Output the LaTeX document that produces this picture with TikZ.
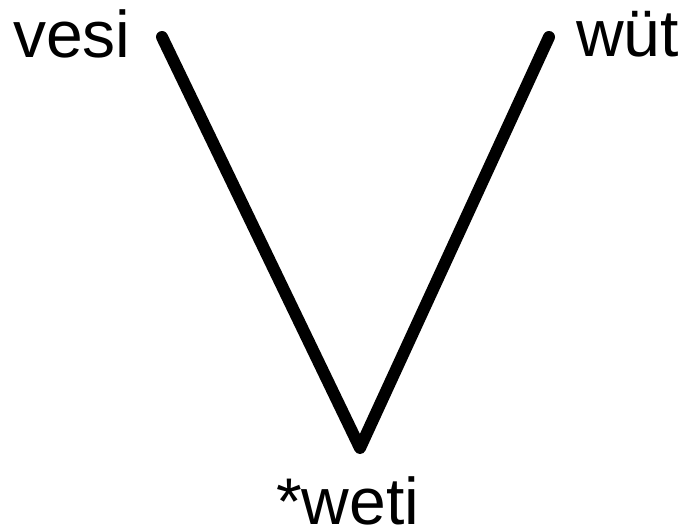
\documentclass[tikz,border=0pt]{standalone}
\usepackage{fontspec}
\setmainfont{Liberation Sans}
\begin{document}
\begin{tikzpicture}[x=1pt,y=-1pt,
  lbl/.style={inner sep=0pt,font=\fontsize{66}{70}\selectfont},
  stroke/.style={line width=12pt,line cap=round,line join=round}]
\useasboundingbox (0,0) rectangle (693,530);
\node[lbl,anchor=base west] (vesi) at (13,57) {vesi};
\node[lbl,anchor=base west] (wut) at (576,56) {wüt};
\node[lbl,anchor=base west] (weti) at (276,524) {*weti};
\coordinate (a) at (162,37);
\coordinate (b) at (360,448);
\coordinate (c) at (549,37);
\draw[stroke] (a) -- (b) -- (c);
\end{tikzpicture}
\end{document}
